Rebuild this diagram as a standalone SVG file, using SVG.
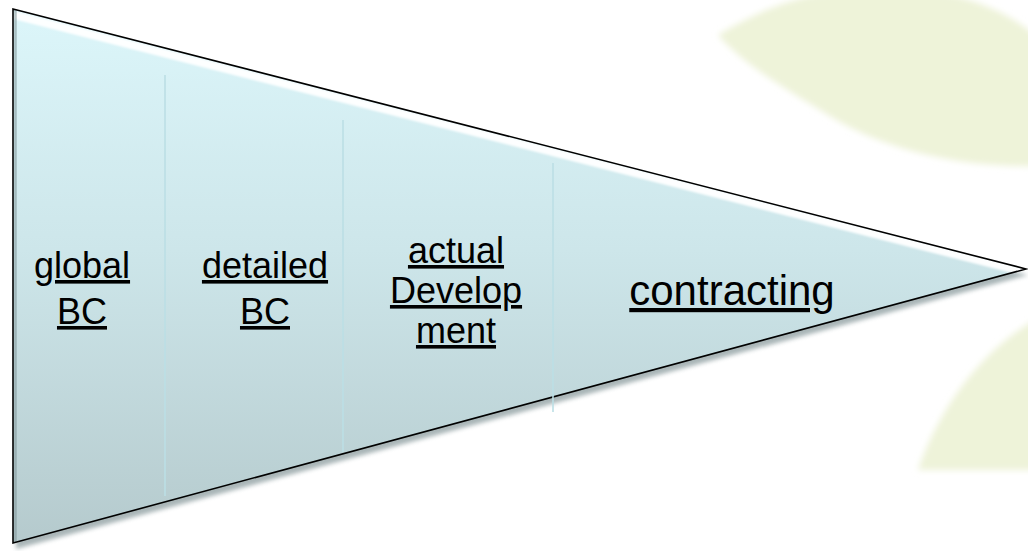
<svg xmlns="http://www.w3.org/2000/svg" width="1028" height="551" viewBox="0 0 1028 551">
  <defs>
    <linearGradient id="fillGrad" x1="0" y1="9" x2="0" y2="543" gradientUnits="userSpaceOnUse">
      <stop offset="0" stop-color="#dcf6fa"/>
      <stop offset="0.45" stop-color="#cde6ea"/>
      <stop offset="1" stop-color="#b5cacd"/>
    </linearGradient>
    <filter id="blurS" x="-5%" y="-5%" width="110%" height="110%">
      <feGaussianBlur stdDeviation="2"/>
    </filter>
    <filter id="blurL" x="-10%" y="-10%" width="120%" height="120%">
      <feGaussianBlur stdDeviation="3"/>
    </filter>
    <filter id="blurH" x="-5%" y="-50%" width="110%" height="200%">
      <feGaussianBlur stdDeviation="1.2"/>
    </filter>
    <clipPath id="triClip">
      <polygon points="13,9 1026,269 13,543"/>
    </clipPath>
  </defs>
  <style>
    .leaf { fill: #eef3d9; filter: url(#blurL); }
    .outline { fill: none; stroke: #000; stroke-width: 1.6; stroke-linejoin: miter; }
    .divider { stroke: #bcdfe5; stroke-width: 1.6; }
    .label { font-family: "Liberation Sans", Arial, sans-serif; font-size: 36px; fill: #000; text-anchor: middle; text-decoration: underline; }
    .big { font-size: 42px; }
  </style>

  <rect width="1028" height="551" fill="#ffffff"/>

  <g id="background-leaves">
    <path class="leaf" d="M718,35 C760,10 800,-8 870,-12 C950,-15 1010,10 1040,40 L1040,166 C960,168 880,150 820,110 C770,80 740,60 718,35 Z"/>
    <path class="leaf" d="M918,470 C935,420 965,375 1000,345 C1015,332 1030,322 1045,315 L1045,470 Z"/>
  </g>

  <g id="funnel">
    <polygon points="16,15 1028,275 16,549" fill="#6f8487" opacity="0.6" filter="url(#blurS)"/>
    <polygon points="13,9 1026,269 13,543" fill="url(#fillGrad)"/>
    <g clip-path="url(#triClip)">
      <line x1="14" y1="15" x2="1024" y2="272" stroke="#ffffff" stroke-width="8" opacity="0.95" filter="url(#blurH)"/>
      <line x1="15.5" y1="10" x2="15.5" y2="543" stroke="#7e9396" stroke-width="2.5" opacity="0.55"/>
    </g>
    <polygon class="outline" points="13,9 1026,269 13,543"/>
  </g>

  <g id="dividers">
    <line class="divider" x1="165" y1="75" x2="165" y2="496"/>
    <line class="divider" x1="343" y1="120" x2="343" y2="452"/>
    <line class="divider" x1="553" y1="163" x2="553" y2="412"/>
  </g>

  <g id="segment-global-bc">
    <text class="label" x="82" y="278">global</text>
    <text class="label" x="82" y="324">BC</text>
  </g>
  <g id="segment-detailed-bc">
    <text class="label" x="265" y="278">detailed</text>
    <text class="label" x="265" y="324">BC</text>
  </g>
  <g id="segment-actual-development">
    <text class="label" x="456" y="263">actual</text>
    <text class="label" x="456" y="303">Develop</text>
    <text class="label" x="456" y="343">ment</text>
  </g>
  <g id="segment-contracting">
    <text class="label big" x="732" y="305">contracting</text>
  </g>
</svg>
